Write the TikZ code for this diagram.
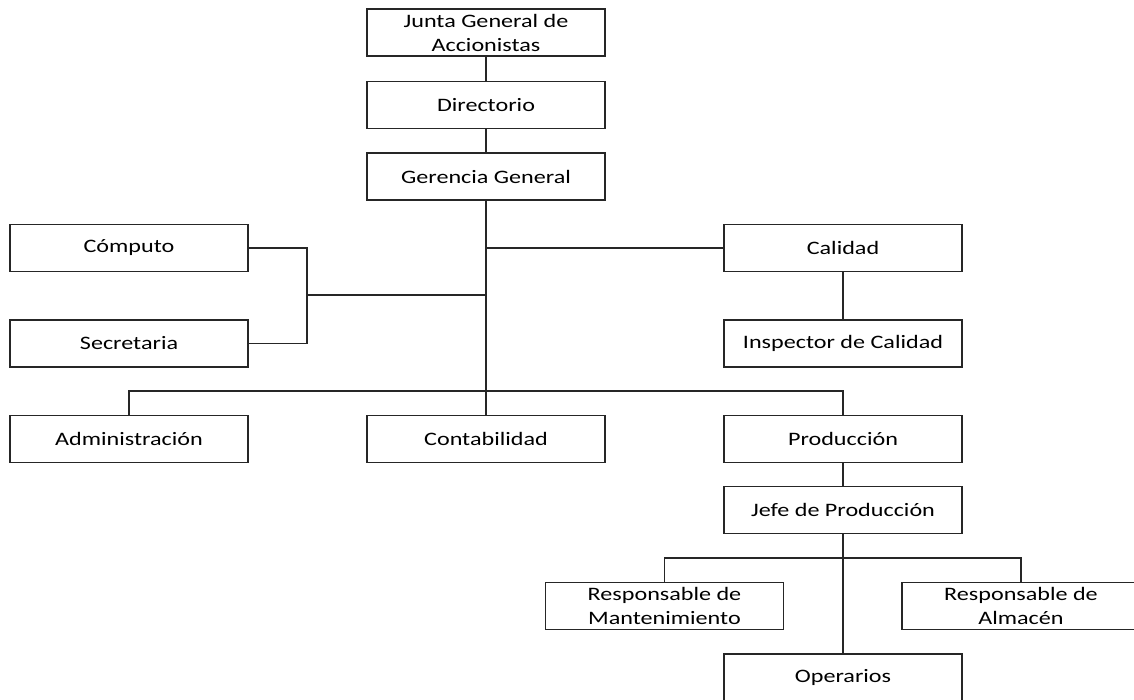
\documentclass[tikz,border=0pt]{standalone}
\usepackage{fontspec}
\setmainfont[FakeStretch=1.27]{Carlito}
\begin{document}
\begin{tikzpicture}[x=1pt,y=-1pt,
  box/.style={draw=black!85, line width=1.4pt, fill=white, minimum width=238pt,
    minimum height=47pt, inner sep=0pt, align=center,
    font=\fontsize{19}{24}\selectfont},
  link/.style={draw=black!85, line width=1.4pt}]
\useasboundingbox (0,0) rectangle (1134,700);
\clip (0,0) rectangle (1134,700);

% top of the hierarchy
\node[box] (junta) at (486,32.5)  {Junta General de\\Accionistas};
\node[box] (dir)   at (486,105)   {Directorio};
\node[box] (ger)   at (486,176.5) {Gerencia General};

% staff units
\node[box] (comp) at (129,248) {Cómputo};
\node[box] (sec)  at (129,343.5) {Secretaria};
\node[box] (cal)  at (843,248) {Calidad};
\node[box] (insp) at (843,343.5) {Inspector de Calidad};

% line departments
\node[box] (adm)  at (129,439) {Administración};
\node[box] (cont) at (486,439) {Contabilidad};
\node[box] (prod) at (843,439) {Producción};
\node[box] (jefe) at (843,510) {Jefe de Producción};

% production staff
\node[box] (mant) at (664.5,606) {Responsable de\\Mantenimiento};
\node[box] (alm)  at (1021,606)  {Responsable de\\Almacén};
\node[box] (oper) at (843,677.5) {Operarios};

% junction points
\coordinate (lb) at (307,295);
\coordinate (hb) at (486,391);
\coordinate (jb) at (843,558);

% connectors
\draw[link] (junta) -- (dir);
\draw[link] (dir) -- (ger);
\draw[link] (ger.south) -- (cont.north);
\draw[link] (cal.west) -- (cal.west -| ger.south);
\draw[link] (comp.east) -| (lb);
\draw[link] (sec.east) -| (lb);
\draw[link] (lb) -- (lb -| ger.south);
\draw[link] (adm.north) |- (hb) -| (prod.north);
\draw[link] (cal) -- (insp);
\draw[link] (prod) -- (jefe);
\draw[link] (jefe.south) -- (oper.north);
\draw[link] (mant.north) |- (jb) -| (alm.north);
\end{tikzpicture}
\end{document}
